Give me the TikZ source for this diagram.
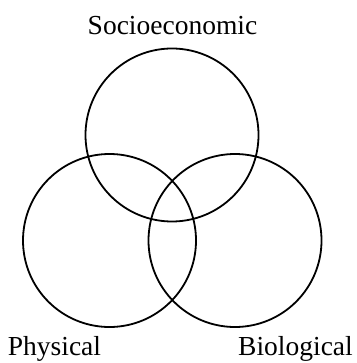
\documentclass[tikz,border=0pt]{standalone}
\usepackage{fontspec}
\setmainfont{Liberation Serif}
\begin{document}
\begin{tikzpicture}[x=1pt,y=-1pt,
  venn/.style={draw=black,line width=1.8pt,circle,minimum size=173pt,inner sep=0pt},
  lbl/.style={anchor=base,inner sep=0pt,font=\fontsize{27.5}{30}\selectfont}]
\useasboundingbox (0,0) rectangle (356,363);
\node[venn] (soc) at (172,135) {};
\node[venn] (phy) at (109.5,240.5) {};
\node[venn] (bio) at (235,240.5) {};
\node[lbl] (tsoc) at (172.5,35) {Socioeconomic};
\node[lbl] (tphy) at (54.5,355.5) {Physical};
\node[lbl] (tbio) at (295.5,355.5) {Biological};
\end{tikzpicture}
\end{document}
